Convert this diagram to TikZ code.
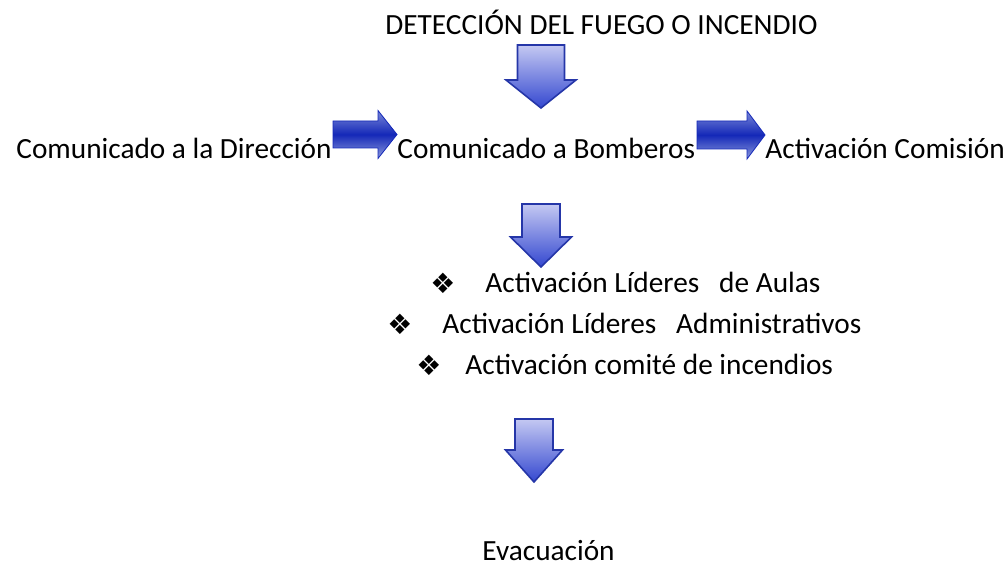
\documentclass[tikz,border=0pt]{standalone}
\usepackage{fontspec}
\setmainfont{Carlito}
\newfontfamily\symfont{DejaVu Sans}
\definecolor{arrline}{HTML}{2536A8}
\definecolor{arrtop}{HTML}{C4C8F2}
\definecolor{arrbot}{HTML}{3448D0}
\definecolor{rtop}{HTML}{7A88D8}
\definecolor{rmid}{HTML}{1428B8}
\definecolor{rbot}{HTML}{8C9ADC}
\tikzset{
  txt/.style={anchor=base west, inner sep=0pt},
  bul/.style={anchor=base west, inner sep=0pt, font=\symfont\fontsize{14}{15}\selectfont},
  downarrow/.style={draw=arrline, line width=0.8pt, line join=miter, top color=arrtop, bottom color=arrbot},
  rightarrow/.style={draw=rmid, line width=0.4pt, line join=miter, top color=rtop, bottom color=rbot, middle color=rmid},
}
\begin{document}
\begin{tikzpicture}[x=0.5pt, y=-0.5pt, font=\fontsize{14.65}{17}\selectfont]
	\useasboundingbox (0,0) rectangle (1008,566);
	% texts
	\node[txt] (t) at (385,35) {DETECCIÓN DEL FUEGO O INCENDIO};
	\node[txt] (dir) at (16,159) {Comunicado a la Dirección};
	\node[txt] (bom) at (397,159) {Comunicado a Bomberos};
	\node[txt] (com) at (765,159) {Activación Comisión};
	\node[bul] (b1) at (430,294) {❖};
	\node[txt] (l1) at (485,293) {Activación Líderes~~~de Aulas};
	\node[bul] (b2) at (387,335) {❖};
	\node[txt] (l2) at (442,334) {Activación Líderes~~~Administrativos};
	\node[bul] (b3) at (416,376) {❖};
	\node[txt] (l3) at (465,375) {Activación comité de incendios};
	\node[txt] (eva) at (482,561) {Evacuación};
	% arrows
	\path (541,45) coordinate (d1)
		(541,204) coordinate (d2)
		(534,419) coordinate (d3)
		(333,134.5) coordinate (r1)
		(697,135) coordinate (r2)
		;
	\foreach \c/\s/\h/\a/\b in {d1/23.5/35/35/63, d2/19/30.5/33/63, d3/19/28.5/31/63}{
		\draw[downarrow] (\c) ++(-\s,0) -- ++({2*\s},0) -- ++(0,\a) -- ++({\h-\s},0)
			-- ++(-\h,{\b-\a}) -- ++(-\h,{\a-\b}) -- ++({\h-\s},0) -- cycle;}
	\foreach \c/\s/\h/\a/\b in {r1/13.5/24/45/64, r2/14/24/50/68}{
		\draw[rightarrow] (\c) ++(0,-\s) -- ++(\a,0) -- ++(0,{\s-\h}) -- ++({\b-\a},\h)
			-- ++({\a-\b},\h) -- ++(0,{\s-\h}) -- ++(-\a,0) -- cycle;}
\end{tikzpicture}
\end{document}
